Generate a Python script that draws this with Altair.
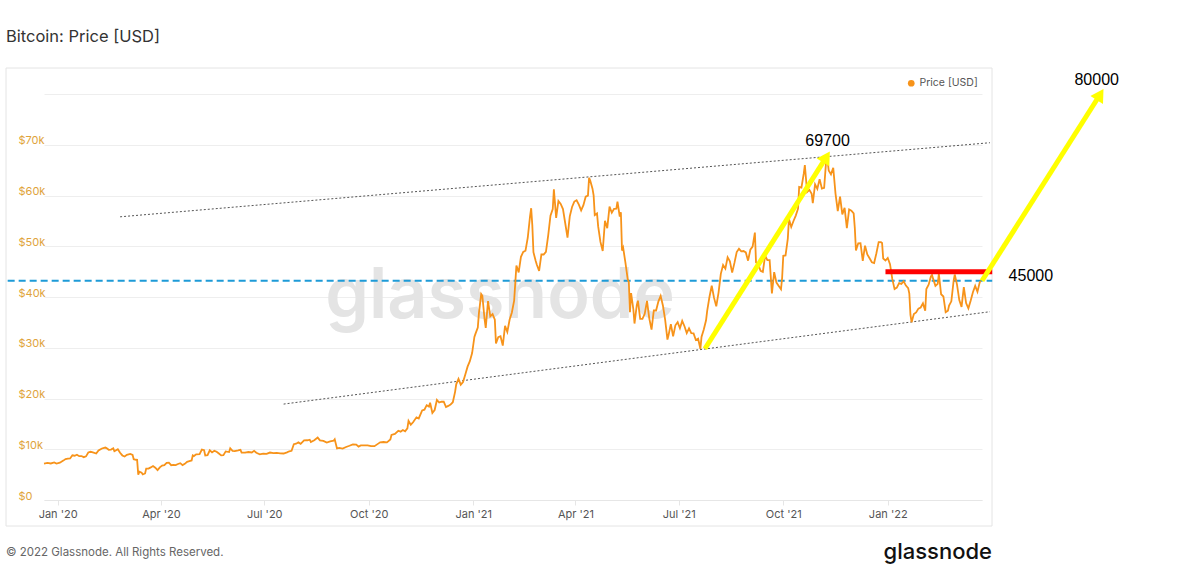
import altair as alt
import pandas as pd

# ---------------- data ----------------
price_dates = [
 "2019-12-20","2019-12-23","2019-12-26","2019-12-29","2019-12-31",
 "2020-01-03","2020-01-06","2020-01-08","2020-01-10","2020-01-12","2020-01-14","2020-01-16","2020-01-18","2020-01-20","2020-01-22","2020-01-24","2020-01-26","2020-01-28","2020-01-30",
 "2020-02-01","2020-02-04","2020-02-06","2020-02-09","2020-02-12","2020-02-13","2020-02-15","2020-02-17","2020-02-19","2020-02-20","2020-02-23","2020-02-25","2020-02-27","2020-02-29",
 "2020-03-02","2020-03-05","2020-03-07","2020-03-08","2020-03-10","2020-03-11","2020-03-12","2020-03-13","2020-03-15","2020-03-16","2020-03-18","2020-03-19","2020-03-21","2020-03-23","2020-03-25","2020-03-27","2020-03-29","2020-03-31",
 "2020-04-02","2020-04-04","2020-04-06","2020-04-08","2020-04-10","2020-04-12","2020-04-14","2020-04-16","2020-04-18","2020-04-20","2020-04-22","2020-04-24","2020-04-26","2020-04-28","2020-04-29","2020-04-30",
 "2020-05-02","2020-05-05","2020-05-07","2020-05-09","2020-05-10","2020-05-12","2020-05-14","2020-05-16","2020-05-18","2020-05-20","2020-05-22","2020-05-24","2020-05-26","2020-05-28","2020-05-31",
 "2020-06-01","2020-06-03","2020-06-05","2020-06-08","2020-06-10","2020-06-11","2020-06-14","2020-06-17","2020-06-20","2020-06-22","2020-06-24","2020-06-27","2020-06-30",
 "2020-07-03","2020-07-06","2020-07-09","2020-07-12","2020-07-15","2020-07-18","2020-07-21","2020-07-23","2020-07-25","2020-07-27","2020-07-29","2020-07-31",
 "2020-08-02","2020-08-05","2020-08-08","2020-08-10","2020-08-11","2020-08-14","2020-08-17","2020-08-19","2020-08-22","2020-08-25","2020-08-28","2020-08-31",
 "2020-09-01","2020-09-03","2020-09-05","2020-09-08","2020-09-11","2020-09-14","2020-09-17","2020-09-20","2020-09-22","2020-09-24","2020-09-27","2020-09-30",
 "2020-10-03","2020-10-06","2020-10-09","2020-10-11","2020-10-14","2020-10-17","2020-10-20","2020-10-21","2020-10-24","2020-10-27","2020-10-29","2020-10-31",
 "2020-11-02","2020-11-04","2020-11-05","2020-11-07","2020-11-09","2020-11-12","2020-11-14","2020-11-17","2020-11-19","2020-11-21","2020-11-23","2020-11-24","2020-11-26","2020-11-28","2020-11-30",
 "2020-12-02","2020-12-04","2020-12-06","2020-12-08","2020-12-10","2020-12-12","2020-12-14","2020-12-16","2020-12-17","2020-12-19","2020-12-21","2020-12-23","2020-12-25","2020-12-27","2020-12-29","2020-12-31",
 "2021-01-02","2021-01-03","2021-01-05","2021-01-06","2021-01-08","2021-01-09","2021-01-11","2021-01-12","2021-01-14","2021-01-16","2021-01-18","2021-01-20","2021-01-21","2021-01-23","2021-01-25","2021-01-27","2021-01-29","2021-01-31",
 "2021-02-02","2021-02-04","2021-02-06","2021-02-08","2021-02-10","2021-02-12","2021-02-14","2021-02-16","2021-02-18","2021-02-20","2021-02-21","2021-02-22","2021-02-23","2021-02-25","2021-02-26","2021-02-28",
 "2021-03-02","2021-03-04","2021-03-06","2021-03-08","2021-03-10","2021-03-12","2021-03-13","2021-03-15","2021-03-17","2021-03-19","2021-03-21","2021-03-23","2021-03-25","2021-03-27","2021-03-29","2021-03-31",
 "2021-04-02","2021-04-04","2021-04-06","2021-04-08","2021-04-10","2021-04-12","2021-04-13","2021-04-14","2021-04-16","2021-04-17","2021-04-18","2021-04-20","2021-04-21","2021-04-23","2021-04-25","2021-04-27","2021-04-29",
 "2021-05-01","2021-05-03","2021-05-05","2021-05-07","2021-05-08","2021-05-10","2021-05-11","2021-05-12","2021-05-13","2021-05-15","2021-05-17","2021-05-18","2021-05-19","2021-05-20","2021-05-22","2021-05-23","2021-05-25","2021-05-26","2021-05-28","2021-05-30",
 "2021-06-01","2021-06-03","2021-06-05","2021-06-07","2021-06-09","2021-06-11","2021-06-13","2021-06-15","2021-06-17","2021-06-19","2021-06-21","2021-06-22","2021-06-24","2021-06-26","2021-06-28","2021-06-30",
 "2021-07-02","2021-07-04","2021-07-06","2021-07-08","2021-07-10","2021-07-12","2021-07-14","2021-07-16","2021-07-18","2021-07-20","2021-07-21","2021-07-23","2021-07-25","2021-07-26","2021-07-28","2021-07-30",
 "2021-08-01","2021-08-03","2021-08-05","2021-08-07","2021-08-09","2021-08-11","2021-08-13","2021-08-15","2021-08-17","2021-08-19","2021-08-21","2021-08-23","2021-08-25","2021-08-27","2021-08-29","2021-08-31",
 "2021-09-02","2021-09-04","2021-09-06","2021-09-07","2021-09-09","2021-09-11","2021-09-13","2021-09-15","2021-09-17","2021-09-19","2021-09-21","2021-09-23","2021-09-25","2021-09-27","2021-09-29","2021-09-30",
 "2021-10-01","2021-10-03","2021-10-05","2021-10-06","2021-10-08","2021-10-10","2021-10-12","2021-10-14","2021-10-15","2021-10-17","2021-10-19","2021-10-20","2021-10-22","2021-10-24","2021-10-26","2021-10-27","2021-10-29","2021-10-31",
 "2021-11-02","2021-11-04","2021-11-06","2021-11-08","2021-11-09","2021-11-10","2021-11-12","2021-11-14","2021-11-16","2021-11-18","2021-11-20","2021-11-22","2021-11-24","2021-11-26","2021-11-28","2021-11-30",
 "2021-12-02","2021-12-03","2021-12-04","2021-12-06","2021-12-08","2021-12-10","2021-12-12","2021-12-14","2021-12-16","2021-12-18","2021-12-20","2021-12-22","2021-12-24","2021-12-26","2021-12-27","2021-12-28","2021-12-30",
 "2022-01-01","2022-01-03","2022-01-05","2022-01-07","2022-01-09","2022-01-11","2022-01-13","2022-01-15","2022-01-17","2022-01-19","2022-01-20","2022-01-21","2022-01-22","2022-01-24","2022-01-26","2022-01-28","2022-01-30",
 "2022-02-01","2022-02-03","2022-02-04","2022-02-06","2022-02-08","2022-02-09","2022-02-10","2022-02-12","2022-02-14","2022-02-15","2022-02-17","2022-02-19","2022-02-21","2022-02-23","2022-02-24","2022-02-26","2022-02-28",
 "2022-03-01","2022-03-03","2022-03-05","2022-03-07","2022-03-09","2022-03-11","2022-03-13","2022-03-15","2022-03-17","2022-03-19","2022-03-21","2022-03-23","2022-03-24",
]
price_values = [
 7190,7320,7200,7390,7190,
 7340,7760,8080,8170,8190,8810,8720,8920,8630,8660,8440,8600,9360,9500,
 9390,9160,9750,10150,10330,10220,9890,9930,10180,9600,9990,9310,8780,8560,
 8900,9080,8890,8030,7930,7910,4970,5560,5360,5030,5230,6190,6190,6420,6700,6370,5880,6440,
 6790,6860,7300,7340,6860,6910,6870,7100,7260,6880,7130,7530,7680,7790,8800,8660,
 8990,9020,9950,9800,8750,8820,9790,9380,9680,9520,9160,8790,8840,9580,9450,
 10200,9670,9650,9780,9880,9320,9340,9460,9360,9680,9300,9010,9140,
 9090,9350,9250,9300,9190,9160,9390,9600,9700,11000,11100,11350,
 11060,11760,11770,11880,11410,11770,12300,11760,11660,11330,11540,11680,
 11960,10170,10280,10120,10450,10690,10950,10930,10530,10750,10780,10780,
 10620,10600,11060,11370,11430,11360,11920,12820,13030,13640,13460,13800,
 13550,14130,15580,14840,15310,16290,16070,17650,17800,18680,18410,19170,17150,17730,19710,
 19200,19360,19370,18320,18540,18810,19270,21310,22800,23860,22720,23240,24710,26280,27360,28950,
 32130,32780,34000,36820,40580,40250,35570,33920,39190,36190,36630,35510,30830,32070,32270,30430,34320,33110,
 35510,36940,39270,46200,44850,47910,48880,49130,51680,55890,57490,54200,48820,47090,46340,45140,
 48380,48370,48910,52160,56010,57330,61240,55600,58920,58340,57330,54530,51700,55880,57750,58800,
 59060,58200,57060,58090,59770,59990,63500,62970,61340,60010,56150,56470,53910,50860,49070,55030,53560,
 57800,56610,57370,57390,58800,55860,56700,49150,49720,46760,43540,42910,37000,40780,37540,34770,38400,39290,35680,35680,
 36680,39240,35800,33560,37340,37340,39100,40220,38330,35480,31600,32510,34660,32240,34430,35040,
 33830,35290,34240,32880,33820,32870,32820,31530,31780,29790,32110,33590,35410,37270,40010,42220,
 39870,38150,40870,44560,46310,45590,47820,47050,44800,46720,48860,49500,48990,49060,48780,47160,
 49320,49940,52700,46810,46400,45160,44960,48150,47260,47260,40690,44890,42840,42170,41520,43790,
 48120,48200,51510,55360,53800,54970,56040,57400,61670,61550,64260,65990,60690,61120,60360,58470,62210,61320,
 63230,61370,61530,67570,66970,64950,64160,65470,60380,56940,59760,56280,57570,53570,57250,57010,
 56490,53600,49150,50580,50590,47140,50100,48380,47630,46850,46700,48620,50810,50800,50640,47590,47180,
 47690,46460,43560,41560,41860,42740,42590,43100,42250,41740,40680,36460,35030,36650,36950,37710,37920,
 38740,37300,41570,42410,44040,44350,43570,42200,42590,44580,40540,40100,37010,37310,38330,39150,43190,
 44420,42450,39400,38060,41930,38810,37780,39280,40940,42200,41030,42900,43200,
]
series_name = ["Price [USD]"] * len(price_values)

y_ticks = [0, 10000, 20000, 30000, 40000, 50000, 60000, 70000, 80000]
x_domain = ["2019-12-20", "2022-03-25"]
y_domain = [0, 80000]

# hand-drawn annotations (date, value)
upper_trend_dates = ["2020-02-25", "2022-04-01"]
upper_trend_values = [55800, 70400]
lower_trend_dates = ["2020-07-18", "2022-04-01"]
lower_trend_values = [18900, 37100]
blue_level_dates = ["2019-11-18", "2022-04-03"]
blue_level_value = 43200
red_level_dates = ["2021-12-30", "2022-04-03"]
red_level_value = 45000
arrow1_dates = ["2021-07-24", "2021-11-08"]
arrow1_values = [29800, 67600]
arrow2_dates = ["2022-03-25", "2022-07-07"]
arrow2_values = [43200, 79900]
label_texts = ["69700", "45000", "80000"]
label_dates = ["2021-11-09", "2022-05-07", "2022-07-04"]
label_values = [70800, 44200, 82800]

# ---------------- frames ----------------
price_df = pd.DataFrame({"date": pd.to_datetime(price_dates), "price": price_values, "series": series_name})

def seg(dates, values, name):
    return pd.DataFrame({"date": pd.to_datetime(dates), "price": values, "seg": [name] * len(dates)})

upper_df = seg(upper_trend_dates, upper_trend_values, "upper")
lower_df = seg(lower_trend_dates, lower_trend_values, "lower")
blue_df = seg(blue_level_dates, [blue_level_value] * 2, "blue")
red_df = seg(red_level_dates, [red_level_value] * 2, "red")
arrow1_df = seg(arrow1_dates, arrow1_values, "a1")
arrow2_df = seg(arrow2_dates, arrow2_values, "a2")
heads_df = pd.DataFrame({"date": pd.to_datetime([arrow1_dates[1], arrow2_dates[1]]),
                         "price": [arrow1_values[1], arrow2_values[1]]})
labels_df = pd.DataFrame({"date": pd.to_datetime(label_dates), "price": label_values, "label": label_texts})

FONT = "Inter"
xscale = alt.Scale(domain=x_domain)
yscale = alt.Scale(domain=y_domain, nice=False, zero=True)

x_axis = alt.Axis(title=None, format="%b '%y", tickCount={"interval": "month", "step": 3},
                  grid=False, domain=True, domainColor="#e6e6e6", ticks=True, tickSize=5,
                  tickColor="#e6e6e6", labelFont=FONT, labelFontSize=11, labelColor="#555555",
                  labelPadding=3, labelFlush=False)
y_axis = alt.Axis(title=None, values=y_ticks, grid=True, gridColor="#eeeeee", domain=False,
                  ticks=False, labelAlign="left", labelPadding=26, labelBaseline="alphabetic",
                  labelOffset=-1, labelFont=FONT, labelFontSize=11, labelColor="#E0A33B",
                  labelExpr="datum.value == 0 ? '$0' : (datum.value >= 80000 ? '' : '$' + (datum.value/1000) + 'k')")

def X():
    return alt.X("date:T", scale=xscale, axis=x_axis)

def Y():
    return alt.Y("price:Q", scale=yscale, axis=y_axis)

one = pd.DataFrame({"k": [0]})

panel = alt.Chart(one).mark_rect(fillOpacity=0, stroke="#e4e4e4", strokeWidth=1, clip=False).encode(
    x=alt.value(-38), x2=alt.value(948), y=alt.value(-26), y2=alt.value(432))

watermark = alt.Chart(one).mark_text(text="glassnode", font=FONT, fontSize=70, fontWeight=600,
                                     color="#e4e4e4", align="center", baseline="alphabetic").encode(
    x=alt.value(456), y=alt.value(224))

trend_upper = alt.Chart(upper_df).mark_line(color="#555555", strokeWidth=1, strokeDash=[2, 2], clip=False).encode(x=X(), y=Y())
trend_lower = alt.Chart(lower_df).mark_line(color="#555555", strokeWidth=1, strokeDash=[2, 2], clip=False).encode(x=X(), y=Y())
blue_line = alt.Chart(blue_df).mark_line(color="#1E9BD7", strokeWidth=2, strokeDash=[7, 4], clip=False).encode(x=X(), y=Y())

price_line = alt.Chart(price_df).mark_line(strokeWidth=1.8, clip=False).encode(
    x=X(), y=Y(),
    color=alt.Color("series:N", scale=alt.Scale(range=["#F7931A"]),
                    legend=alt.Legend(orient="none", legendX=862, legendY=-16, title=None,
                                      symbolType="circle", symbolSize=45, symbolFillColor="#F7931A",
                                      symbolStrokeColor="#F7931A", symbolStrokeWidth=0,
                                      labelFont=FONT, labelFontSize=10.5, labelColor="#555555",
                                      labelOffset=3)))

red_line = alt.Chart(red_df).mark_line(color="#FF0000", strokeWidth=5, clip=False).encode(x=X(), y=Y())
arrow1 = alt.Chart(arrow1_df).mark_line(color="#FFFF00", strokeWidth=5, clip=False).encode(x=X(), y=Y())
arrow2 = alt.Chart(arrow2_df).mark_line(color="#FFFF00", strokeWidth=5, clip=False).encode(x=X(), y=Y())
heads = alt.Chart(heads_df).mark_point(shape="triangle-up", filled=True, color="#FFFF00", size=220,
                                       angle=32, opacity=1, clip=False).encode(x=X(), y=Y())
labels = alt.Chart(labels_df).mark_text(font="Liberation Sans", fontSize=16, color="#000000",
                                        align="center", baseline="middle", clip=False).encode(
    x=X(), y=Y(), text="label:N")

title = alt.Chart(one).mark_text(text="Bitcoin: Price [USD]", font=FONT, fontSize=16.5, color="#333333",
                                 align="left", baseline="middle").encode(x=alt.value(-38), y=alt.value(-57))
footer = alt.Chart(one).mark_text(text="© 2022 Glassnode. All Rights Reserved.", font=FONT, fontSize=11.5,
                                  color="#666666", align="left", baseline="middle").encode(x=alt.value(-38), y=alt.value(459))
logo = alt.Chart(one).mark_text(text="glassnode", font=FONT, fontSize=22, fontWeight=500, color="#111111",
                                align="right", baseline="middle").encode(x=alt.value(948), y=alt.value(458))

chart = alt.layer(panel, watermark, trend_upper, trend_lower, blue_line, price_line,
                  red_line, arrow1, arrow2, heads, labels, title, footer, logo).properties(
    width=938, height=406,
    autosize=alt.AutoSizeParams(type="none"),
    padding={"left": 44, "top": 94, "right": 218, "bottom": 80},
    background="white",
).configure_view(stroke=None)

chart.save("out.html", embed_options={"renderer": "svg", "actions": False})
